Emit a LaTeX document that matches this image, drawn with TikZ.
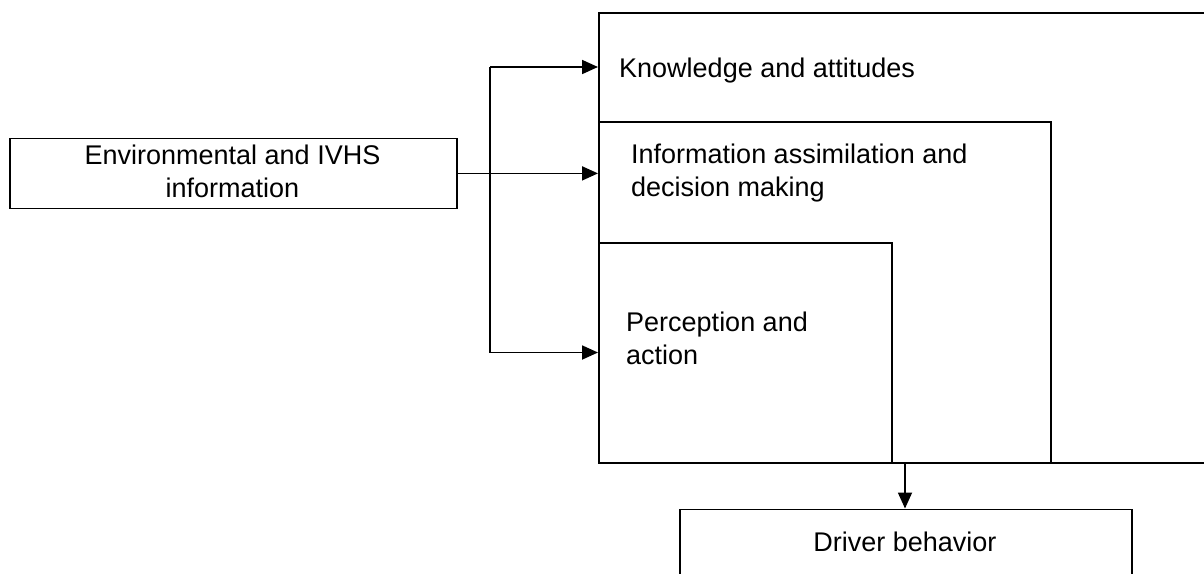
\documentclass[tikz,border=0pt]{standalone}
\usepackage{fontspec}
\setmainfont{Liberation Sans}
\usetikzlibrary{arrows.meta}
\begin{document}
\begin{tikzpicture}[x=1pt,y=-1pt,
  box/.style={draw,line width=1.8pt,inner sep=0pt,anchor=north west},
  lbl/.style={inner sep=0pt,font=\fontsize{27}{33}\selectfont},
  arr/.style={line width=1.8pt,-{Triangle[length=16pt,width=14pt]}},
  wire/.style={line width=1.8pt}]
\useasboundingbox (0,0) rectangle (1204,573);
\clip (0,0) rectangle (1204,573);
% nested driver model boxes
\node[box,minimum width=630pt,minimum height=450pt] (outer) at (598,12) {};
\node[box,minimum width=452pt,minimum height=341pt] (mid) at (598,121) {};
\node[box,minimum width=293pt,minimum height=220pt] (inner) at (598,242) {};
% input and output boxes
\node[box,minimum width=447pt,minimum height=70pt] (env) at (9,137.5) {};
\node[box,minimum width=452pt,minimum height=90pt] (drv) at (679,508.5) {};
% labels (multi-line labels are placed by the baseline of their last line)
\node[lbl,align=center,anchor=base] (envt) at (232.5,197) {Environmental and IVHS\\information};
\node[lbl,anchor=base west] (kt) at (619,77) {Knowledge and attitudes};
\node[lbl,anchor=base west,align=left] (mt) at (631,196) {Information assimilation and\\decision making};
\node[lbl,anchor=base west,align=left] (pt) at (626,364) {Perception and\\action};
\node[lbl,anchor=base] (dt) at (905,551) {Driver behavior};
% input distribution
\coordinate (jt) at (490,67);
\coordinate (jb) at (490,352.5);
\draw[wire] (jt) -- (jb);
\draw[arr] (env.east) -- (env.east -| mid.west);
\draw[arr] (jt) -- (jt -| outer.west);
\draw[arr] (jb) -- (jb -| inner.west);
% output
\coordinate (out) at (905,462);
\draw[arr] (out) -- (out |- drv.north);
\end{tikzpicture}
\end{document}
